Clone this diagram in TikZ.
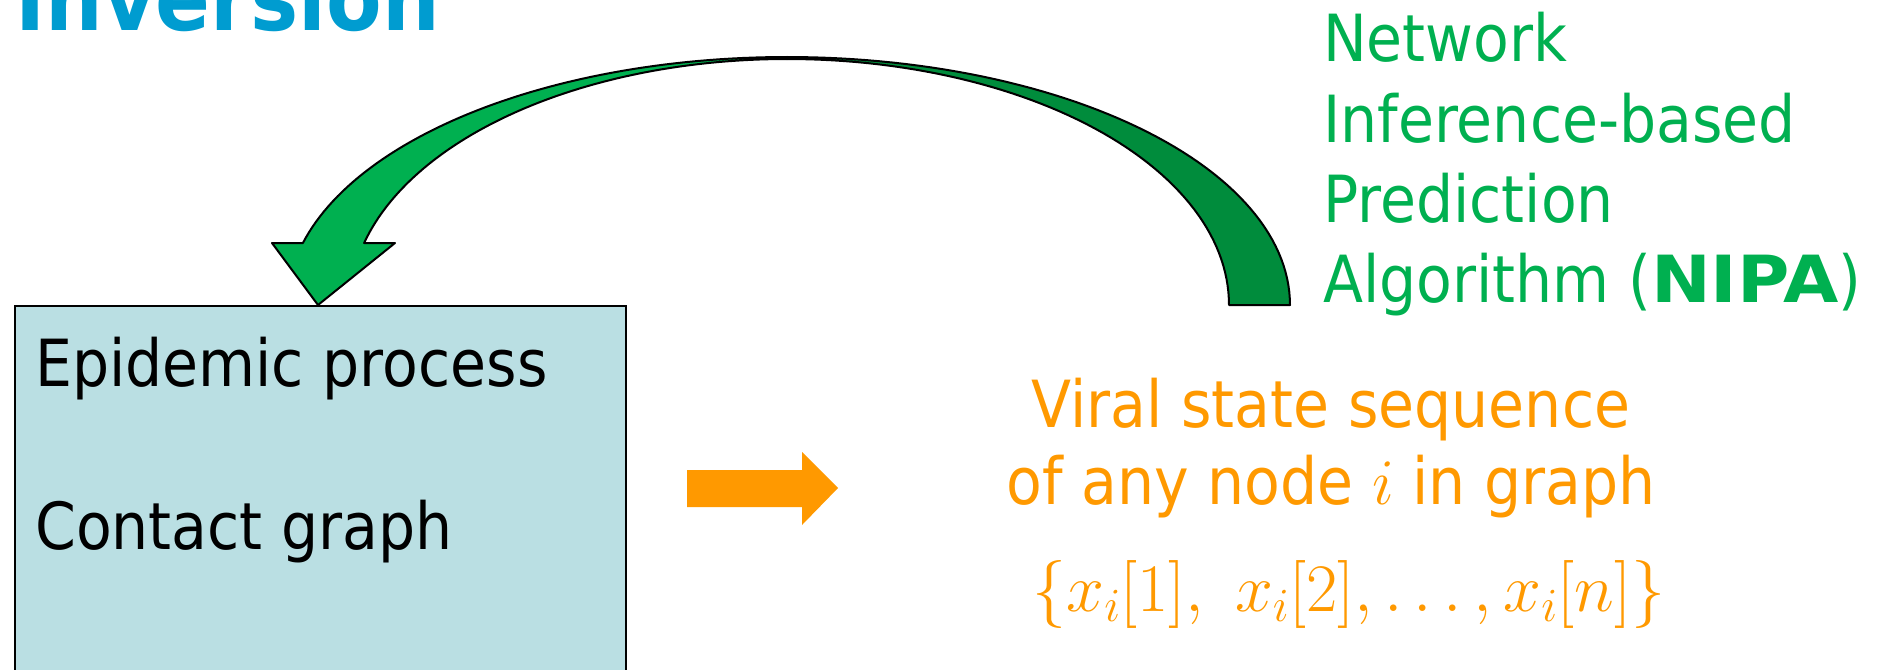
\RequirePackage{fix-cm}
\documentclass[tikz,border=0pt]{standalone}
\usepackage[no-math]{fontspec}
\setmainfont{DejaVu Sans}[FakeStretch=0.9]
\newfontfamily\nipafont{DejaVu Sans}[FakeStretch=1.1]
\definecolor{titleblue}{RGB}{0,156,208}
\definecolor{nipagreen}{RGB}{0,176,80}
\definecolor{darkgreen}{RGB}{0,140,60}
\definecolor{vorange}{RGB}{255,153,0}
\definecolor{boxfill}{RGB}{186,223,227}
\begin{document}
\begin{tikzpicture}[x=1pt,y=-1pt,
  txt/.style={inner sep=0pt, anchor=base west, font=\fontsize{65}{78}\selectfont},
  greentxt/.style={txt, text=nipagreen},
  orangetxt/.style={txt, anchor=base, text=vorange},
  arrowline/.style={draw=black, line width=2pt, line join=round}]
\useasboundingbox (0,0) rectangle (1878,669);
\clip (0,0) rectangle (1878,669);

% title (cut off at top, as in the reference)
\node[inner sep=0pt, anchor=base west, text=titleblue,
      font=\fontsize{90}{100}\selectfont\bfseries] (title) at (15,31) {Inversion};

% box
\node[draw=black, line width=2pt, fill=boxfill, inner sep=0pt,
      minimum width=611pt, minimum height=420pt, anchor=north west] (box) at (14,305) {};
\node[txt] (epi) at (35,386) {Epidemic process};
\node[txt] (contact) at (35,549) {Contact graph};

% orange block arrow
\coordinate (oa) at (687,488);
\fill[vorange] (oa) ++(0,-18) -- (802,470) -- (802,452) -- (838,488) -- (802,525)
  -- (802,507) -- (687,507) -- cycle;

% orange text
\node[orangetxt] (viral1) at (1331,427) {Viral state sequence};
\node[orangetxt] (viral2) at (1331,504) {of any node $i$ in graph};
\node[inner sep=0pt, anchor=base, text=vorange, font=\fontsize{68}{80}\selectfont]
  (seq) at (1349,611) {$\{x_i[1],\ x_i[2],\ldots,x_i[n]\}$};

% green text
\node[greentxt] (n1) at (1323,62) {Network};
\node[greentxt] (n2) at (1323,142) {Inference-based};
\node[greentxt] (n3) at (1323,222) {Prediction};
\node[greentxt] (n4) at (1323,302) {Algorithm ({\nipafont\bfseries NIPA})};

% curved green arrow: back (dark) part
\path[arrowline, fill=darkgreen]
  plot[domain=90:0, samples=60] ({787+503*cos(\x)},{305-248*sin(\x)})
  -- plot[domain=0:90, samples=60] ({787+442*cos(\x)},{305-246*sin(\x)}) -- cycle;
% front (light) part with head
\path[arrowline, fill=nipagreen]
  (303,243) -- (272,243) -- (318,305) -- (395,243) -- (364,243)
  -- plot[domain=165.4:90, samples=60] ({787+437*cos(\x)},{305-246*sin(\x)})
  -- plot[domain=90:165.52, samples=60] ({787+500*cos(\x)},{305-248*sin(\x)}) -- cycle;
\end{tikzpicture}
\end{document}
